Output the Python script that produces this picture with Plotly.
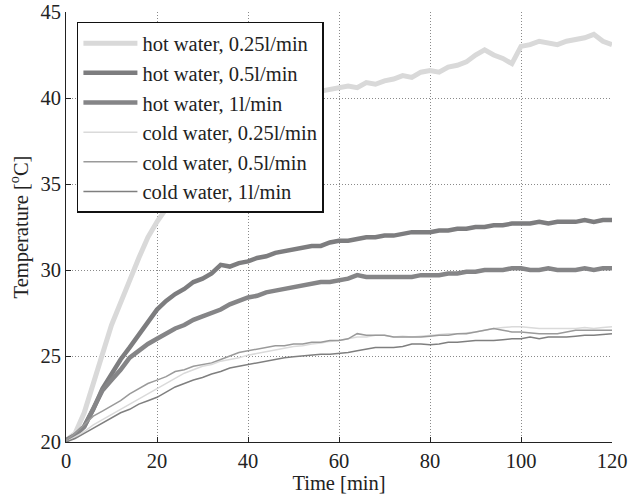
import plotly.graph_objects as go

time_min = list(range(0, 121, 2))

hot_025 = [20.1, 20.5, 21.7, 23.3, 25.1, 26.8, 28.2, 29.4, 30.7, 31.9, 32.8, 33.6, 34.4, 35.1, 35.8, 36.4,
           36.9, 37.4, 37.8, 38.2, 38.6, 38.9, 39.2, 39.5, 39.7, 39.9, 40.1, 40.3, 40.4, 40.5, 40.6, 40.7,
           40.6, 40.9, 40.8, 41.0, 41.1, 41.3, 41.2, 41.5, 41.6, 41.5, 41.8, 41.9, 42.1, 42.5, 42.8, 42.5,
           42.3, 42.0, 43.0, 43.1, 43.3, 43.2, 43.1, 43.3, 43.4, 43.5, 43.7, 43.3, 43.1]
hot_05 = [20.1, 20.4, 20.9, 21.9, 23.1, 24.0, 24.8, 25.5, 26.2, 26.9, 27.7, 28.2, 28.6, 28.9, 29.3, 29.5,
          29.8, 30.3, 30.2, 30.4, 30.5, 30.7, 30.8, 31.0, 31.1, 31.2, 31.3, 31.4, 31.4, 31.6, 31.7, 31.7,
          31.8, 31.9, 31.9, 32.0, 32.0, 32.1, 32.2, 32.2, 32.2, 32.3, 32.3, 32.4, 32.4, 32.5, 32.5, 32.6,
          32.6, 32.7, 32.7, 32.7, 32.8, 32.7, 32.8, 32.8, 32.8, 32.9, 32.8, 32.9, 32.9]
hot_1 = [20.1, 20.4, 20.9, 21.9, 23.0, 23.6, 24.2, 24.9, 25.3, 25.7, 26.0, 26.3, 26.6, 26.8, 27.1, 27.3,
         27.5, 27.7, 28.0, 28.2, 28.4, 28.5, 28.7, 28.8, 28.9, 29.0, 29.1, 29.2, 29.3, 29.3, 29.4, 29.5,
         29.7, 29.6, 29.6, 29.6, 29.6, 29.6, 29.6, 29.7, 29.7, 29.7, 29.8, 29.8, 29.9, 29.9, 30.0, 30.0,
         30.0, 30.1, 30.1, 30.0, 30.0, 30.1, 30.0, 30.0, 30.0, 30.1, 30.0, 30.1, 30.1]
cold_025 = [20.0, 20.3, 20.6, 21.0, 21.3, 21.6, 21.9, 22.2, 22.5, 22.8, 23.1, 23.4, 23.7, 24.0, 24.2, 24.4,
            24.5, 24.7, 24.8, 24.9, 25.05, 25.15, 25.25, 25.35, 25.45, 25.55, 25.6, 25.7, 25.75, 25.85, 25.9, 26.0,
            26.1, 26.1, 26.2, 26.2, 26.1, 26.15, 26.1, 26.15, 26.2, 26.25, 26.3, 26.3, 26.35, 26.4, 26.5, 26.6,
            26.65, 26.7, 26.7, 26.65, 26.6, 26.6, 26.6, 26.6, 26.6, 26.65, 26.6, 26.65, 26.7]
cold_05 = [20.1, 20.5, 21.0, 21.5, 21.8, 22.1, 22.4, 22.8, 23.1, 23.4, 23.6, 23.8, 24.1, 24.2, 24.4, 24.5,
           24.6, 24.8, 25.0, 25.2, 25.3, 25.4, 25.5, 25.6, 25.6, 25.7, 25.7, 25.8, 25.8, 25.9, 25.9, 26.0,
           26.3, 26.2, 26.2, 26.2, 26.1, 26.1, 26.1, 26.1, 26.15, 26.2, 26.2, 26.3, 26.3, 26.4, 26.5, 26.6,
           26.5, 26.4, 26.4, 26.35, 26.3, 26.3, 26.3, 26.4, 26.5, 26.5, 26.5, 26.5, 26.5]
cold_1 = [20.0, 20.2, 20.5, 20.8, 21.1, 21.4, 21.7, 21.9, 22.2, 22.4, 22.6, 22.9, 23.2, 23.4, 23.6, 23.75,
          23.95, 24.1, 24.3, 24.4, 24.5, 24.6, 24.7, 24.8, 24.9, 24.95, 25.0, 25.05, 25.1, 25.1, 25.15, 25.2,
          25.3, 25.4, 25.5, 25.5, 25.5, 25.55, 25.7, 25.7, 25.65, 25.7, 25.8, 25.8, 25.85, 25.9, 25.9, 25.9,
          25.95, 26.0, 26.0, 26.1, 26.0, 26.1, 26.1, 26.1, 26.15, 26.2, 26.2, 26.25, 26.3]

series = [
    ("hot water, 0.25l/min", hot_025, "#d9d9d9", 5),
    ("hot water, 0.5l/min", hot_05, "#7d7d7f", 4.5),
    ("hot water, 1l/min", hot_1, "#858587", 4.5),
    ("cold water, 0.25l/min", cold_025, "#dadada", 1.5),
    ("cold water, 0.5l/min", cold_05, "#9a9a9a", 1.5),
    ("cold water, 1l/min", cold_1, "#7f7f7f", 1.5),
]

fig = go.Figure()
for name, vals, color, width in series:
    fig.add_trace(go.Scatter(x=time_min, y=vals, mode="lines", name=name,
                             line=dict(color=color, width=width)))

font = dict(family="Liberation Serif", size=20.5, color="#222")
legend_font = dict(family="Liberation Serif", size=20.5, color="#222")
axis_common = dict(showgrid=True, gridcolor="#8a8a8a", griddash="1px,2px", gridwidth=1,
                   showline=True, linecolor="#222", linewidth=1, ticks="inside", ticklen=5,
                   tickcolor="#222", zeroline=False, mirror=False, tickfont=font,
                   automargin=False)

fig.update_layout(
    width=629, height=496,
    margin=dict(l=66, r=17, t=12, b=54),
    paper_bgcolor="white", plot_bgcolor="white",
    font=font,
    showlegend=True,
    legend=dict(x=0.02, y=0.977, xanchor="left", yanchor="top",
                bgcolor="white", bordercolor="#111", borderwidth=1.5,
                font=legend_font, itemwidth=54, tracegroupgap=0),
    xaxis=dict(range=[0, 120], tickvals=[0, 20, 40, 60, 80, 100, 120],
               title=dict(text="Time [min]", font=font, standoff=2), **axis_common),
    yaxis=dict(range=[20, 45], tickvals=[20, 25, 30, 35, 40, 45],
               title=dict(text="Temperature [<sup>o</sup>C]", font=font, standoff=6), **axis_common),
)

fig.write_html("out.html", config={"displayModeBar": False},
               post_script="document.body.style.margin='0';document.body.style.overflow='hidden';")
